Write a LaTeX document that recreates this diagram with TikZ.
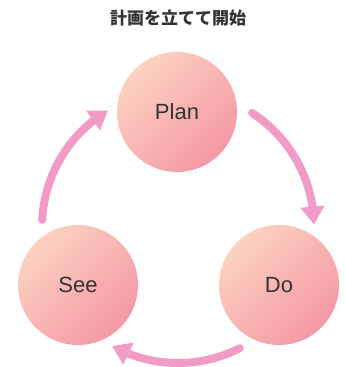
\documentclass[tikz,border=0pt]{standalone}
\usepackage{fontspec}
\setmainfont{Liberation Sans}
\newfontfamily\cjk{Noto Sans CJK JP}
\usetikzlibrary{arrows.meta,bending,calc}
\definecolor{peach}{RGB}{252,210,192}
\definecolor{rose}{RGB}{244,152,166}
\definecolor{arrowpink}{RGB}{242,155,198}
\definecolor{txt}{RGB}{51,51,51}
\tikzset{
  stage/.style={circle, minimum size=120pt, inner sep=0pt, top color=peach, bottom color=rose, shading angle=45, text=txt, font=\fontsize{22}{26}\selectfont},
  cyclearrow/.style={draw=arrowpink, line width=8pt, line cap=round, -{Triangle[width=23pt,length=18pt,flex]}}
}
\begin{document}
\begin{tikzpicture}[x=1pt,y=1pt]
\useasboundingbox (0,0) rectangle (345,367);
\node[font=\cjk\bfseries\fontsize{17}{20}\selectfont, text=txt] (title) at (178,349) {計画を立てて開始};
\node[stage] (plan) at (177,255) {Plan};
\node[stage] (do) at (279,82) {Do};
\node[stage] (see) at (78,82) {See};
\coordinate (c) at (178,140);
\coordinate (a1) at ($(c)+(57:136)$);
\coordinate (a2) at ($(c)+(-63:136)$);
\coordinate (a3) at ($(c)+(177:136)$);
\draw[cyclearrow] (a1) arc[start angle=57, end angle=1, radius=136];
\draw[cyclearrow] (a2) arc[start angle=-63, end angle=-119, radius=136];
\draw[cyclearrow] (a3) arc[start angle=177, end angle=121, radius=136];
\end{tikzpicture}
\end{document}
